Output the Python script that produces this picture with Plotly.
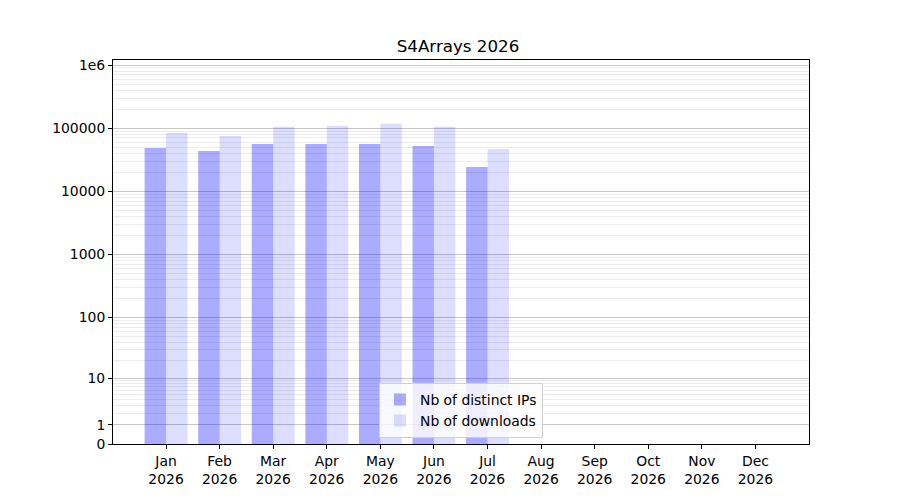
import numpy as np
import plotly.graph_objects as go

months = ["Jan", "Feb", "Mar", "Apr", "May", "Jun", "Jul", "Aug", "Sep", "Oct", "Nov", "Dec"]
year = "2026"
distinct_ips = [48700, 43600, 56300, 56300, 56300, 52400, 24300]
downloads = [84200, 75500, 105000, 108900, 117000, 105000, 46900]
tick_values = [0, 1, 10, 100, 1000, 10000, 100000, 1000000]
tick_labels = ["0", "1", "10", "100", "1000", "10000", "100000", "1e6"]
y_max = 1.2e6


def tf(v):
    return np.log10(1 + np.asarray(v, dtype=float))


x_idx = list(range(len(months)))
fig = go.Figure()
fig.add_trace(go.Bar(
    x=x_idx[:len(distinct_ips)], y=tf(distinct_ips),
    name="Nb of distinct IPs", marker=dict(color="rgba(0,0,255,0.33)", line=dict(width=0)),
    hovertext=[str(v) for v in distinct_ips],
))
fig.add_trace(go.Bar(
    x=x_idx[:len(downloads)], y=tf(downloads),
    name="Nb of downloads", marker=dict(color="rgba(0,0,255,0.135)", line=dict(width=0)),
    hovertext=[str(v) for v in downloads],
))

minor_vals = []
for n in range(0, 7):
    for k in range(2, 10):
        v = k * 10 ** n
        if v <= y_max:
            minor_vals.append(float(tf(v)))

fig.update_layout(
    width=900, height=500,
    margin=dict(l=105, r=99, t=52, b=64),
    paper_bgcolor="white", plot_bgcolor="white",
    font=dict(family="DejaVu Sans", size=13.9, color="black"),
    title=dict(text="S4Arrays 2026", x=0.5, xanchor="center", y=1 - 38 / 500, yanchor="middle",
               font=dict(size=16.7)),
    barmode="group", bargap=0.2, bargroupgap=0,
    showlegend=True,
    legend=dict(x=0.5, xanchor="center", y=0.016, yanchor="bottom",
                bgcolor="rgba(255,255,255,0.8)", bordercolor="#d0d0d0", borderwidth=1,
                font=dict(size=13.9), itemwidth=30, tracegroupgap=2),
)
fig.update_xaxes(
    range=[-0.99, 12.0], tickmode="array", tickvals=x_idx,
    ticktext=[f"{m}<br>{year}" for m in months],
    showgrid=False, zeroline=False,
    showline=True, linecolor="black", linewidth=1, mirror=True,
    ticks="outside", ticklen=4, tickcolor="black",
)
fig.update_yaxes(
    range=[0, float(tf(y_max))], tickmode="array",
    tickvals=[float(v) for v in tf(tick_values)], ticktext=tick_labels,
    showgrid=True, gridcolor="rgba(128,128,128,0.45)", gridwidth=1, zeroline=False,
    showline=True, linecolor="black", linewidth=1, mirror=True,
    ticks="outside", ticklen=4, tickcolor="black",
    minor=dict(tickmode="array", tickvals=minor_vals, showgrid=True,
               gridcolor="rgba(128,128,128,0.15)", gridwidth=1, ticks=""),
)

fig.write_html("out.html")
